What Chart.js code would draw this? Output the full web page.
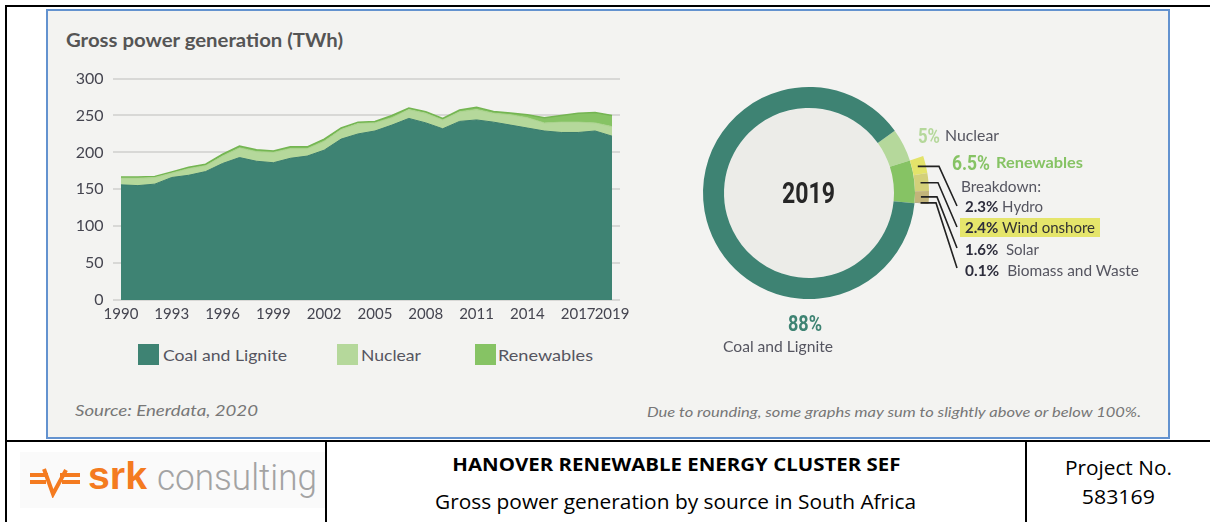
<!DOCTYPE html>
<html>
<head>
<meta charset="utf-8">
<script src="https://cdn.jsdelivr.net/npm/chart.js@4.4.1/dist/chart.umd.min.js"></script>
<style>
  html, body { margin: 0; padding: 0; background: #fff; }
  body { width: 1210px; height: 522px; position: relative; overflow: hidden; font-family: Lato, "Open Sans", sans-serif; }
  .abs { position: absolute; white-space: nowrap; transform-origin: left center; }
  .rule { position: absolute; background: #000; }
  #panel { position: absolute; left: 46px; top: 9px; width: 1120px; height: 426px; background: #f3f3f1; border: 2px solid #6392cf; }
  .title { left: 66px; top: 29px; font-size: 18px; font-weight: 700; color: #555; }
  .leg-box { position: absolute; width: 21px; height: 21px; top: 344px; }
  .leg-txt { top: 344px; font-size: 16px; color: #555560; line-height: 21px; }
  .cond { font-family: Roboto, "DejaVu Sans", sans-serif; font-weight: 700; }
  .lbl { font-size: 15px; color: #555560; }
  .pct { font-weight: 700; color: #2d2d3c; }
  .note { font-style: italic; color: #777; }
  .foot { position: absolute; text-align: center; font-family: "Open Sans", sans-serif; color: #000; white-space: nowrap; }
  .foot span { display: inline-block; transform-origin: center center; }
</style>
</head>
<body>
<!-- page frame -->
<div class="rule" style="left:5px;top:5px;width:1205px;height:2px"></div>
<div class="rule" style="left:5px;top:5px;width:2px;height:517px"></div>
<div class="rule" style="left:5px;top:440px;width:1205px;height:2px"></div>
<div class="rule" style="left:325px;top:440px;width:2px;height:82px"></div>
<div class="rule" style="left:1025px;top:440px;width:2px;height:82px"></div>

<div id="panel"></div>
<div class="abs title" data-w="277">Gross power generation (TWh)</div>

<div style="position:absolute;left:50px;top:60px;width:590px;height:275px">
  <canvas id="areaChart"></canvas>
</div>

<!-- legend -->
<div class="leg-box" style="left:138px;background:#3e8373"></div>
<div class="abs leg-txt" style="left:163px" data-w="124">Coal and Lignite</div>
<div class="leg-box" style="left:337px;background:#b5d89b"></div>
<div class="abs leg-txt" style="left:361px" data-w="60">Nuclear</div>
<div class="leg-box" style="left:475px;background:#86c364"></div>
<div class="abs leg-txt" style="left:498px" data-w="95">Renewables</div>

<div style="position:absolute;left:659px;top:43px;width:400px;height:300px">
  <canvas id="donutChart"></canvas>
</div>

<!-- donut labels -->
<div class="abs cond" style="left:782px;top:176px;font-size:29px;color:#262626" data-w="53">2019</div>
<div class="abs cond" style="left:788px;top:311px;font-size:22px;color:#3e8373" data-w="34">88%</div>
<div class="abs lbl" style="left:723px;top:337px" data-w="110">Coal and Lignite</div>

<div class="abs cond" style="left:918px;top:124px;font-size:20px;color:#b5d89b" data-w="22">5%</div>
<div class="abs lbl" style="left:945px;top:126px" data-w="54">Nuclear</div>
<div class="abs cond" style="left:952px;top:151px;font-size:20px;color:#86c364" data-w="38">6.5%</div>
<div class="abs lbl" style="left:996px;top:153px;font-weight:700;color:#86c364" data-w="87">Renewables</div>
<div class="abs lbl" style="left:961px;top:177px" data-w="80">Breakdown:</div>
<div class="abs" style="left:960px;top:218px;width:140px;height:19px;background:#e5e56b"></div>
<div class="abs lbl" style="left:965px;top:197px"><span class="pct">2.3%</span> Hydro</div>
<div class="abs lbl" style="left:965px;top:218px;color:#333" data-w="130"><span class="pct">2.4%</span> Wind onshore</div>
<div class="abs lbl" style="left:965px;top:240px"><span class="pct">1.6%</span>&nbsp; Solar</div>
<div class="abs lbl" style="left:965px;top:261px" data-w="174"><span class="pct">0.1%</span>&nbsp; Biomass and Waste</div>

<div class="abs note" style="left:75px;top:401px;font-size:15px" data-w="183">Source: Enerdata, 2020</div>
<div class="abs note" style="left:647px;top:403px;font-size:14px" data-w="494">Due to rounding, some graphs may sum to slightly above or below 100%.</div>

<!-- footer -->
<div class="abs" style="left:20px;top:452px;width:305px;height:56px;background:#fafafa"></div>
<svg class="abs" style="left:28px;top:466px" width="56" height="32" viewBox="0 0 56 32">
  <path d="M2 9 H20 M2 16 H18 M32 9 H52 M34 16 H52" stroke="#f47b20" stroke-width="4" fill="none"/>
  <path d="M16 3 L25 28 L38 4" stroke="#f47b20" stroke-width="4" fill="none" stroke-linejoin="miter"/>
</svg>
<div class="abs" style="left:88px;top:455px;font-family:'Liberation Sans',Arial,sans-serif;font-weight:700;font-size:38px;color:#f47b20" data-w="59">srk</div>
<div class="abs" style="left:157px;top:456px;font-family:Roboto,sans-serif;font-weight:300;font-size:37px;color:#a3a3a3" data-w="160">consulting</div>

<div class="foot" style="left:327px;width:698px;top:452px;font-size:18px;font-weight:700"><span data-w="448">HANOVER RENEWABLE ENERGY CLUSTER SEF</span></div>
<div class="foot" style="left:327px;width:698px;top:488px;font-size:20px"><span data-w="481">Gross power generation by source in South Africa</span></div>
<div class="foot" style="left:1027px;width:183px;top:454px;font-size:20px"><span data-w="107">Project No.</span></div>
<div class="foot" style="left:1027px;width:183px;top:483px;font-size:20px"><span data-w="73">583169</span></div>

<script>
// ---- data (TWh) ----
const years = [1990,1991,1992,1993,1994,1995,1996,1997,1998,1999,2000,2001,2002,2003,2004,
               2005,2006,2007,2008,2009,2010,2011,2012,2013,2014,2015,2016,2017,2018,2019];
const coal = [156,155,157,166,169,174,185,193,188,186,192,195,203,218,225,
              229,237,246,240,232,242,244,241,237,233,229,227,227,229,222];
const nuclear = [9,10,9,6,9,8,10,13,13,14,13,10,12,13,14,
                 11,10,12,13,12,13,14,12,14,14,11,14,14,11,13];
const renewables = [1.5,1.5,1.5,1.5,2,2,2.5,2.5,2.5,2,2.5,2.5,3,2,2,
                    2,3,2,2,2,2.5,3,2.5,2.5,4,7,9,12,14,15];
const yTicks = [0,50,100,150,200,250,300];
const xTickYears = [1990,1993,1996,1999,2002,2005,2008,2011,2014,2017,2019];

// 2019 shares (%)
const shareLabels = ['Nuclear','Renewables','Coal and Lignite'];
const shares = [5, 6.5, 88];
const breakdownLabels = ['Hydro','Wind onshore','Solar','Biomass and Waste'];
const breakdown = [2.3, 2.4, 1.6, 0.1];

const cCoal = '#3e8373', cNuc = '#b5d89b', cRen = '#86c364';
const breakdownColors = ['#e3e36a','#d3d07a','#c2b47a','#a89a6a'];

// squeeze/stretch html text to the widths seen in the reference
function fitTexts() {
  document.querySelectorAll('[data-w]').forEach(el => {
    el.style.transform = 'none';
    const w = el.getBoundingClientRect().width;
    if (w > 0) el.style.transform = 'scaleX(' + (+el.dataset.w / w) + ')';
  });
}
fitTexts();
if (document.fonts) document.fonts.ready.then(fitTexts);

// ---- area chart ----
const pts = arr => years.map((y, i) => ({x: y, y: arr[i]}));

new Chart(document.getElementById('areaChart'), {
  type: 'line',
  data: {
    datasets: [
      { label: 'Coal and Lignite', data: pts(coal), backgroundColor: cCoal, borderColor: '#3a7c6c', borderWidth: 1, fill: 'origin', pointRadius: 0 },
      { label: 'Nuclear', data: pts(nuclear), backgroundColor: cNuc, borderColor: '#a9d28c', borderWidth: 1, fill: '-1', pointRadius: 0 },
      { label: 'Renewables', data: pts(renewables), backgroundColor: cRen, borderColor: '#74b552', borderWidth: 1.5, fill: '-1', pointRadius: 0 }
    ]
  },
  options: {
    responsive: true,
    maintainAspectRatio: false,
    animation: false,
    layout: { padding: { top: 16, right: 20, left: 0, bottom: 0 } },
    plugins: { legend: { display: false }, tooltip: { enabled: false } },
    scales: {
      x: {
        type: 'linear',
        min: 1989.5,
        max: 2019.47,
        afterBuildTicks: s => { s.ticks = xTickYears.map(v => ({ value: v })); },
        afterFit: s => { s.height = 35; },
        grid: { display: false, drawTicks: false },
        border: { display: false },
        ticks: { autoSkip: false, maxRotation: 0, padding: 5, color: '#454550', font: { family: 'Lato', size: 15 }, callback: v => String(v) }
      },
      y: {
        stacked: true,
        min: 0,
        max: 300,
        z: 1,
        afterBuildTicks: s => { s.ticks = yTicks.map(v => ({ value: v })); },
        afterFit: s => { s.width = 62.5; },
        grid: { color: 'rgba(0,0,0,0.11)', lineWidth: 2, drawTicks: false },
        border: { display: false },
        ticks: { padding: 9, color: '#454550', font: { family: 'Lato', size: 16 } }
      }
    }
  }
});

// ---- donut ----
const outerR = 120, innerR = 85;
const renGap = shares[1] - breakdown.reduce((a, b) => a + b, 0);
const outerData = [shares[0], ...breakdown, renGap, shares[2]];
const outerColors = ['rgba(0,0,0,0)', ...breakdownColors, 'rgba(0,0,0,0)', 'rgba(0,0,0,0)'];
const labelY = [163, 184, 205, 225]; // leader line ends, canvas px (label rows)

const donutDecor = {
  id: 'donutDecor',
  beforeDatasetsDraw(chart) {
    const arc = chart.getDatasetMeta(1).data[0];
    const ctx = chart.ctx;
    ctx.save();
    ctx.fillStyle = '#ececE8';
    ctx.beginPath();
    ctx.arc(arc.x, arc.y, arc.innerRadius, 0, Math.PI * 2);
    ctx.fill();
    ctx.restore();
  },
  afterDatasetsDraw(chart) {
    const meta = chart.getDatasetMeta(0);
    const ctx = chart.ctx;
    ctx.save();
    ctx.strokeStyle = '#222';
    ctx.lineWidth = 1.6;
    breakdown.forEach((v, i) => {
      const a = meta.data[i + 1];
      const mid = (a.startAngle + a.endAngle) / 2;
      const r = a.innerRadius + 6;
      const x0 = a.x + Math.cos(mid) * r, y0 = a.y + Math.sin(mid) * r;
      ctx.beginPath();
      ctx.moveTo(x0, y0);
      ctx.lineTo(280 - i, y0);
      ctx.lineTo(298, labelY[i]);
      ctx.stroke();
    });
    ctx.restore();
  }
};

new Chart(document.getElementById('donutChart'), {
  type: 'doughnut',
  data: {
    labels: ['Nuclear', ...breakdownLabels, '', 'Coal and Lignite'],
    datasets: [
      { data: outerData, backgroundColor: outerColors, borderWidth: 0, weight: 14 },
      { labels: shareLabels, data: shares, backgroundColor: [cNuc, cRen, cCoal], borderWidth: 0, weight: 21 }
    ]
  },
  options: {
    responsive: true,
    maintainAspectRatio: false,
    animation: false,
    rotation: 54,
    radius: outerR,
    cutout: (innerR / outerR * 100) + '%',
    layout: { padding: { right: 100 } },
    plugins: { legend: { display: false }, tooltip: { enabled: false } }
  },
  plugins: [donutDecor]
});
</script>
</body>
</html>
